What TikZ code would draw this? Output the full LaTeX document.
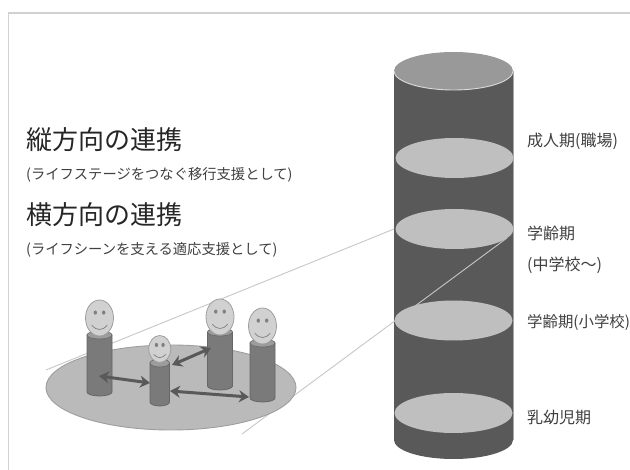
\documentclass[tikz,border=0pt]{standalone}
\usepackage{fontspec}
\setmainfont{Noto Sans CJK JP}
\usetikzlibrary{shapes.geometric,arrows.meta}
\definecolor{cyl}{gray}{0.35}
\definecolor{cyltop}{gray}{0.6}
\definecolor{disk}{gray}{0.75}
\definecolor{pil}{gray}{0.48}
\definecolor{piledge}{gray}{0.40}
\definecolor{face}{gray}{0.82}
\definecolor{faceedge}{gray}{0.62}
\definecolor{guide}{gray}{0.78}
\definecolor{arr}{gray}{0.35}
\tikzset{
  ell/.style={ellipse,inner sep=0pt,outer sep=0pt},
  diskn/.style={ell,fill=disk,minimum width=118pt,minimum height=40pt},
  guideline/.style={draw=guide,line width=0.9pt},
  twoway/.style={draw=arr,line width=3pt,{Stealth[length=10pt,width=12pt]}-{Stealth[length=10pt,width=12pt]}},
  headline/.style={anchor=west,inner sep=0pt,font=\fontsize{26pt}{26pt}\selectfont,text=black!85},
  subline/.style={anchor=west,inner sep=0pt,font=\fontsize{14.3pt}{15pt}\selectfont,text=black!75},
  stage/.style={anchor=west,inner sep=0pt,font=\fontsize{16pt}{17pt}\selectfont,text=black!75},
  stagetight/.style={stage,font=\fontsize{15.4pt}{17pt}\selectfont},
}
% person: name, x left, x right, y top, y bottom, head cy, head rx, head ry
\newcommand{\figperson}[8]{%
  \fill[pil,draw=piledge,line width=0.8pt] (#2,#4) -- (#2,#5) arc[start angle=180,end angle=0,x radius={(#3-#2)/2},y radius=4] -- (#3,#4) -- cycle;
  \draw[piledge,fill=pil!75!white,line width=0.6pt] ({(#2+#3)/2},#4) ellipse[x radius={(#3-#2)/2},y radius=4];
  \node[ell,fill=face,draw=faceedge,line width=0.8pt,minimum width={2*#7*1pt},minimum height={2*#8*1pt}] (#1) at ({(#2+#3)/2},#6) {};
  \fill[black!50] ({(#2+#3)/2-0.3*#7},{#6-0.3*#8}) ellipse[x radius=1.7,y radius=2.1];
  \fill[black!50] ({(#2+#3)/2+0.3*#7},{#6-0.3*#8}) ellipse[x radius=1.7,y radius=2.1];
  \draw[black!50,line width=0.7pt] ({(#2+#3)/2-0.55*#7},{#6+0.4*#8}) .. controls ({(#2+#3)/2-0.2*#7},{#6+0.72*#8}) and ({(#2+#3)/2+0.2*#7},{#6+0.72*#8}) .. ({(#2+#3)/2+0.55*#7},{#6+0.4*#8});
}
\begin{document}
\begin{tikzpicture}[x=1pt,y=-1pt]
\useasboundingbox (0,0) rectangle (630,470);
\fill[white] (0,0) rectangle (630,470);
% frame
\draw[black!18,line width=1.3pt] (630,13) -- (8.5,13) -- (8.5,470);
% big cylinder
\fill[cyl] (394,71) -- (394,440) arc[start angle=180,end angle=0,x radius=59.5,y radius=19] -- (513,71) -- cycle;
\draw[black!35,line width=0.5pt] (513,71) -- (513,440);
\node[ell,fill=cyltop,minimum width=119pt,minimum height=38pt] (cyltopn) at (453.5,71) {};
\draw[white!85!black,line width=0.9pt] (394,71) arc[start angle=180,end angle=0,x radius=59.5,y radius=19];
% guide lines
\coordinate (gA) at (46,370);
\coordinate (gB) at (394,229);
\coordinate (gC) at (242,434);
\coordinate (gD) at (507,238);
\draw[guideline] (gA) -- (gB);
\draw[guideline] (gC) -- (gD);
% disks
\node[diskn] (d1) at (454.5,158) {};
\node[diskn] (d2) at (454.5,229) {};
\node[diskn] (d3) at (453.5,320.5) {};
\node[diskn] (d4) at (453.5,413) {};
% scene base
\node[ell,fill=black!27,draw=black!38,line width=0.9pt,minimum width=250pt,minimum height=85pt] (base) at (171,387.5) {};
% figures
\figperson{p1}{87}{112}{335}{392}{318}{14}{18}
\figperson{p3}{207.5}{232.5}{332}{386}{317}{14}{18}
\figperson{p4}{250}{275}{343}{398}{326}{14}{18}
\figperson{p2}{150}{169.5}{363}{402}{349}{11}{13.5}
% arrows
\coordinate (a1s) at (99,376); \coordinate (a1e) at (150,383);
\coordinate (a2s) at (172,365); \coordinate (a2e) at (211,348);
\coordinate (a3s) at (170,391); \coordinate (a3e) at (249,397);
\draw[twoway] (a1s) -- (a1e);
\draw[twoway] (a2s) -- (a2e);
\draw[twoway] (a3s) -- (a3e);
% text
\node[headline] (h1) at (26,140) {縦方向の連携};
\node[subline] (s1) at (26,174.5) {(ライフステージをつなぐ移行支援として)};
\node[headline] (h2) at (26,215) {横方向の連携};
\node[subline] (s2) at (26,250) {(ライフシーンを支える適応支援として)};
\node[stage] (l1) at (527,141) {成人期(職場)};
\node[stage] (l2) at (527,233) {学齢期};
\node[stage] (l2b) at (527,265) {(中学校～)};
\node[stagetight] (l3) at (527,323) {学齢期(小学校)};
\node[stage] (l4) at (527,417) {乳幼児期};
\end{tikzpicture}
\end{document}
